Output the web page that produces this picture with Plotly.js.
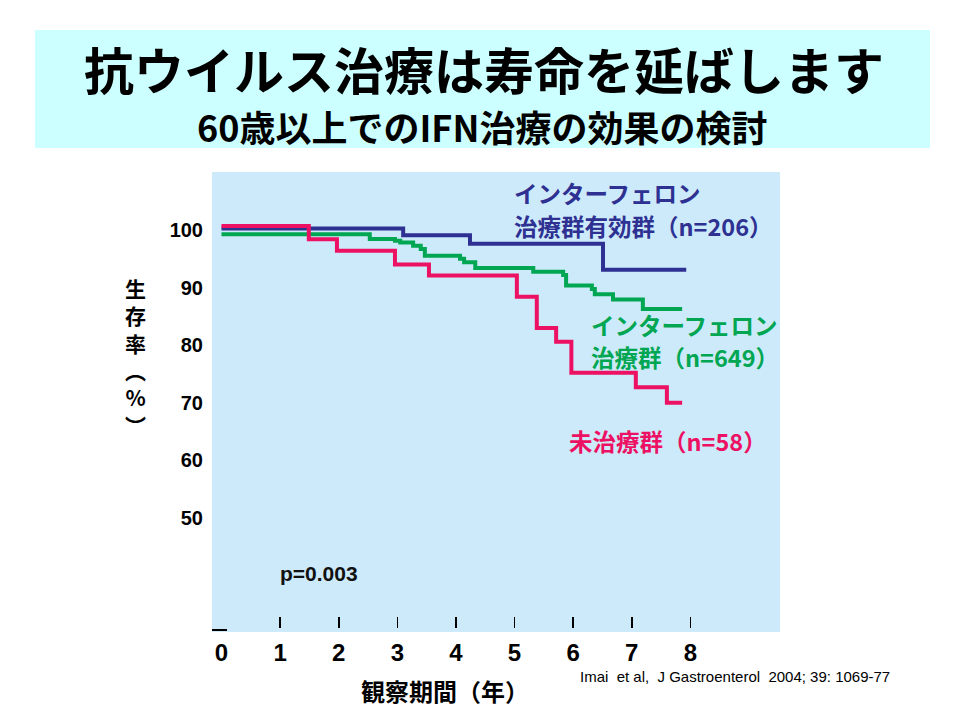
<!DOCTYPE html>
<html>
<head>
<meta charset="utf-8">
<script src="https://cdn.plot.ly/plotly-3.0.1.min.js"></script>
<style>html,body{margin:0;padding:0;background:#fff;}#chart{width:960px;height:720px;}</style>
</head>
<body>
<div id="chart"></div>
<script>
// ---- data ----
const yearTicks = [0, 1, 2, 3, 4, 5, 6, 7, 8];
const survivalTicks = [50, 60, 70, 80, 90, 100];

const effectiveX = [0, 3.10, 4.24, 6.51, 7.93];
const effectiveY = [100.25, 99.1, 97.6, 93.1, 93.1];

const ifnX = [0, 2.53, 2.96, 3.05, 3.27, 3.40, 3.47, 4.07, 4.14, 4.33, 5.32, 5.83, 5.88, 6.32, 6.37, 6.68, 7.19, 7.86];
const ifnY = [99.25, 98.45, 98.15, 97.85, 97.25, 96.7, 95.55, 95.0, 94.4, 93.4, 92.75, 92.2, 90.35, 89.75, 88.85, 87.95, 86.3, 86.3];

const untreatedX = [0, 1.49, 1.97, 2.96, 3.54, 5.04, 5.38, 5.71, 5.97, 7.07, 7.60, 7.86];
const untreatedY = [100.7, 98.4, 96.4, 94.0, 92.1, 88.4, 83.0, 80.6, 75.2, 72.7, 70.0, 70.0];

// ---- layout helpers ----
const L = 212, R = 780, T = 172, B = 632;
const px = x => (x - L) / (R - L);
const py = y => (B - y) / (B - T);

const BLUE = '#2E3192', GREEN = '#00A651', PINK = '#EC1163';
const CJK = '"Noto Sans CJK JP", "Liberation Sans", sans-serif';
const ARIAL = '"Liberation Sans", Arial, sans-serif';

const traces = [
  {x: effectiveX, y: effectiveY, type: 'scatter', mode: 'lines', line: {shape: 'hv', color: BLUE, width: 4}, hoverinfo: 'skip'},
  {x: ifnX, y: ifnY, type: 'scatter', mode: 'lines', line: {shape: 'hv', color: GREEN, width: 4}, hoverinfo: 'skip'},
  {x: untreatedX, y: untreatedY, type: 'scatter', mode: 'lines', line: {shape: 'hv', color: PINK, width: 4}, hoverinfo: 'skip'}
];

function ann(text, x, y, size, color, xanchor, weight, family) {
  return {text: text, xref: 'paper', yref: 'paper', x: px(x), y: py(y), xanchor: xanchor || 'left', yanchor: 'middle',
    showarrow: false, font: {family: family || CJK, size: size, color: color, weight: weight || 'bold'}};
}

const yTitleChars = ['生', '存', '率', '︵', '%', '︶'];

const annotations = [
  ann('抗ウイルス治療は寿命を延ばします', 484, 68, 50, '#000', 'center'),
  ann('60歳以上でのIFN治療の効果の検討', 482, 126, 36, '#000', 'center'),
  ann('インターフェロン', 512, 193, 23.5, BLUE),
  ann('治療群有効群（n=206）', 512, 226, 23.5, BLUE),
  ann('インターフェロン', 589, 325, 23.5, GREEN),
  ann('治療群（n=649）', 589, 357, 23.5, GREEN),
  ann('未治療群（n=58）', 567, 441, 23.5, PINK),
  ann('p=0.003', 278, 573, 21, '#111', 'left', 'bold', ARIAL),
  ann('Imai  et al,  J Gastroenterol  2004; 39: 1069-77', 578, 676, 15, '#000', 'left', 'normal', ARIAL),
  ann('観察期間（年）', 445, 690, 24, '#000', 'center'),
  ann(yTitleChars.join('<br>'), 135, 356, 21, '#000', 'center')
];

const layout = {
  width: 960, height: 720,
  margin: {l: L, r: 960 - R, t: T, b: 720 - B, pad: 0},
  paper_bgcolor: '#ffffff',
  plot_bgcolor: '#CDEAFB',
  showlegend: false,
  xaxis: {
    range: [-0.162, 9.53], tickvals: yearTicks, ticktext: yearTicks.map(String),
    ticks: '', showgrid: false, zeroline: false, showline: false,
    tickfont: {family: ARIAL, size: 24, color: '#000', weight: 'bold'}, ticklabelstandoff: 4
  },
  xaxis2: {
    range: [-0.162, 9.53], overlaying: 'x', anchor: 'free', position: 0.009, side: 'bottom',
    tickvals: yearTicks.slice(1), ticks: 'inside', ticklen: 11, tickwidth: 1.6, tickcolor: '#000',
    showticklabels: false, showgrid: false, zeroline: false, showline: false
  },
  yaxis: {
    range: [30.21, 110.07], tickvals: survivalTicks, ticktext: survivalTicks.map(String),
    ticks: '', showgrid: false, zeroline: false, showline: false,
    tickfont: {family: ARIAL, size: 20, color: '#000', weight: 'bold'}, ticklabelstandoff: 8
  },
  shapes: [
    {type: 'rect', xref: 'paper', yref: 'paper', x0: px(35), x1: px(930), y0: py(148), y1: py(30),
     fillcolor: '#CCFFFF', line: {width: 0}, layer: 'below'},
    {type: 'line', xref: 'paper', yref: 'paper', x0: px(212), x1: px(227), y0: py(630), y1: py(630),
     line: {color: '#000', width: 2}}
  ],
  annotations: annotations
};

// empty trace on xaxis2 so the overlay axis (tick marks) is drawn
traces.push({x: [], y: [], xaxis: 'x2', yaxis: 'y', type: 'scatter', mode: 'lines', hoverinfo: 'skip'});

Plotly.newPlot('chart', traces, layout, {staticPlot: true, displayModeBar: false});
</script>
</body>
</html>
